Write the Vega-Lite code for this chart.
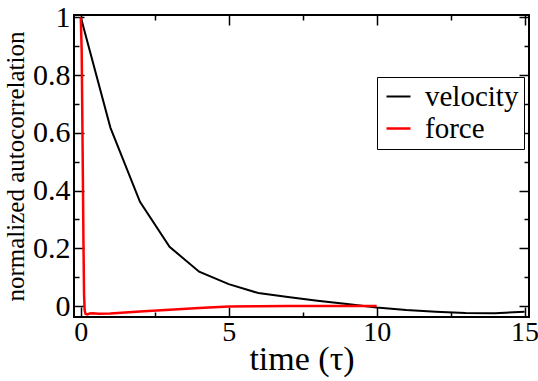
{
  "$schema": "https://vega.github.io/schema/vega-lite/v6.json",
  "autosize": "none",
  "width": 455,
  "height": 302,
  "padding": {"left": 74, "top": 15, "right": 9, "bottom": 64},
  "background": "white",
  "view": {"stroke": "black", "strokeWidth": 2},
  "config": {
    "font": "Liberation Serif",
    "view": {"stroke": "black", "strokeWidth": 2},
    "axis": {"grid": false, "domain": false, "labelFont": "Liberation Serif", "titleFont": "Liberation Serif"},
    "legend": {"labelFont": "Liberation Serif"},
    "style": {"guide-label": {"font": "Liberation Serif"}, "guide-title": {"font": "Liberation Serif"}}
  },
  "datasets": {
    "curves": [
      {"t": 0, "v": 1.0, "series": "velocity"},
      {"t": 1, "v": 0.618, "series": "velocity"},
      {"t": 2, "v": 0.361, "series": "velocity"},
      {"t": 3, "v": 0.205, "series": "velocity"},
      {"t": 4, "v": 0.119, "series": "velocity"},
      {"t": 5, "v": 0.076, "series": "velocity"},
      {"t": 6, "v": 0.045, "series": "velocity"},
      {"t": 7, "v": 0.031, "series": "velocity"},
      {"t": 8, "v": 0.018, "series": "velocity"},
      {"t": 9, "v": 0.007, "series": "velocity"},
      {"t": 10, "v": -0.005, "series": "velocity"},
      {"t": 11, "v": -0.014, "series": "velocity"},
      {"t": 12, "v": -0.02, "series": "velocity"},
      {"t": 13, "v": -0.024, "series": "velocity"},
      {"t": 14, "v": -0.025, "series": "velocity"},
      {"t": 15, "v": -0.02, "series": "velocity"},
      {"t": 0, "v": 1.0, "series": "force"},
      {"t": 0.03, "v": 0.88, "series": "force"},
      {"t": 0.06, "v": 0.56, "series": "force"},
      {"t": 0.09, "v": 0.22, "series": "force"},
      {"t": 0.11, "v": 0.04, "series": "force"},
      {"t": 0.13, "v": -0.015, "series": "force"},
      {"t": 0.16, "v": -0.027, "series": "force"},
      {"t": 0.22, "v": -0.029, "series": "force"},
      {"t": 0.3, "v": -0.026, "series": "force"},
      {"t": 0.4, "v": -0.025, "series": "force"},
      {"t": 0.6, "v": -0.027, "series": "force"},
      {"t": 1.0, "v": -0.026, "series": "force"},
      {"t": 1.5, "v": -0.022, "series": "force"},
      {"t": 2.0, "v": -0.019, "series": "force"},
      {"t": 3.0, "v": -0.013, "series": "force"},
      {"t": 4.0, "v": -0.007, "series": "force"},
      {"t": 5.0, "v": -0.002, "series": "force"},
      {"t": 6.0, "v": -0.001, "series": "force"},
      {"t": 7.0, "v": 0.0, "series": "force"},
      {"t": 8.0, "v": 0.0, "series": "force"},
      {"t": 9.0, "v": 0.0, "series": "force"},
      {"t": 10.0, "v": 0.0, "series": "force"}
    ]
  },
  "data": {"name": "curves"},
  "resolve": {"axis": {"x": "independent", "y": "independent"}},
  "layer": [
    {
      "mark": {"type": "line", "clip": true},
      "encoding": {
        "x": {
          "field": "t", "type": "quantitative",
          "scale": {"domain": [-0.23, 15.15], "nice": false, "zero": false},
          "axis": {"orient": "bottom", "values": [0, 5, 10, 15], "grid": false, "domain": false, "tickColor": "black", "tickWidth": 1.5, "tickSize": 10, "offset": -10,
                   "labelFont": "Liberation Serif", "labelFontSize": 28, "labelColor": "black", "labelPadding": 1, "labelFlush": false, "labelOverlap": false, "labelBound": false, "format": "~g",
                   "title": "time (τ)", "titleFont": "Liberation Serif", "titleFontSize": 34, "titleFontWeight": "normal", "titleColor": "black", "titlePadding": -4}
        },
        "y": {
          "field": "v", "type": "quantitative",
          "scale": {"domain": [-0.038, 1.008], "nice": false, "zero": false},
          "axis": {"orient": "left", "values": [0, 0.2, 0.4, 0.6, 0.8, 1], "grid": false, "domain": false, "tickColor": "black", "tickWidth": 1.5, "tickSize": 10, "offset": -10,
                   "labelFont": "Liberation Serif", "labelFontSize": 30, "labelColor": "black", "labelPadding": 4, "labelFlush": false, "labelOverlap": false, "labelBound": false, "format": "~g",
                   "title": "normalized autocorrelation", "titleFont": "Liberation Serif", "titleFontSize": 25, "titleFontWeight": "normal", "titleColor": "black", "titlePadding": 4}
        },
        "color": {
          "field": "series", "type": "nominal",
          "scale": {"domain": ["velocity", "force"], "range": ["black", "#ff0000"]},
          "legend": {"title": null, "orient": "none", "legendX": 303, "legendY": 62,
                     "strokeColor": "black", "fillColor": "white", "padding": 5,
                     "labelFont": "Liberation Serif", "labelFontSize": 29, "labelColor": "black",
                     "symbolType": "stroke", "symbolSize": 576, "symbolStrokeWidth": 2, "symbolOffset": 2,
                     "rowPadding": 2, "labelOffset": 12}
        },
        "strokeWidth": {
          "field": "series", "type": "nominal",
          "scale": {"domain": ["velocity", "force"], "range": [2, 2.5]},
          "legend": null
        }
      }
    },
    {
      "mark": {"type": "point", "opacity": 0},
      "encoding": {
        "x": {
          "field": "t", "type": "quantitative",
          "scale": {"domain": [-0.23, 15.15], "nice": false, "zero": false},
          "axis": {"orient": "bottom", "values": [2.5, 7.5, 12.5], "grid": false, "domain": false, "tickColor": "black", "tickWidth": 1.5, "tickSize": 5, "offset": -5, "labels": false, "title": null}
        },
        "y": {
          "field": "v", "type": "quantitative",
          "scale": {"domain": [-0.038, 1.008], "nice": false, "zero": false},
          "axis": {"orient": "left", "values": [0.1, 0.3, 0.5, 0.7, 0.9], "grid": false, "domain": false, "tickColor": "black", "tickWidth": 1.5, "tickSize": 5, "offset": -5, "labels": false, "title": null}
        }
      }
    },
    {
      "mark": {"type": "point", "opacity": 0},
      "encoding": {
        "x": {
          "field": "t", "type": "quantitative",
          "scale": {"domain": [-0.23, 15.15], "nice": false, "zero": false},
          "axis": {"orient": "top", "values": [0, 5, 10, 15], "grid": false, "domain": false, "tickColor": "black", "tickWidth": 1.5, "tickSize": 10, "offset": -10, "labels": false, "title": null}
        },
        "y": {
          "field": "v", "type": "quantitative",
          "scale": {"domain": [-0.038, 1.008], "nice": false, "zero": false},
          "axis": {"orient": "right", "values": [0, 0.2, 0.4, 0.6, 0.8, 1], "grid": false, "domain": false, "tickColor": "black", "tickWidth": 1.5, "tickSize": 10, "offset": -10, "labels": false, "title": null}
        }
      }
    },
    {
      "mark": {"type": "point", "opacity": 0},
      "encoding": {
        "x": {
          "field": "t", "type": "quantitative",
          "scale": {"domain": [-0.23, 15.15], "nice": false, "zero": false},
          "axis": {"orient": "top", "values": [2.5, 7.5, 12.5], "grid": false, "domain": false, "tickColor": "black", "tickWidth": 1.5, "tickSize": 5, "offset": -5, "labels": false, "title": null}
        },
        "y": {
          "field": "v", "type": "quantitative",
          "scale": {"domain": [-0.038, 1.008], "nice": false, "zero": false},
          "axis": {"orient": "right", "values": [0.1, 0.3, 0.5, 0.7, 0.9], "grid": false, "domain": false, "tickColor": "black", "tickWidth": 1.5, "tickSize": 5, "offset": -5, "labels": false, "title": null}
        }
      }
    }
  ]
}
